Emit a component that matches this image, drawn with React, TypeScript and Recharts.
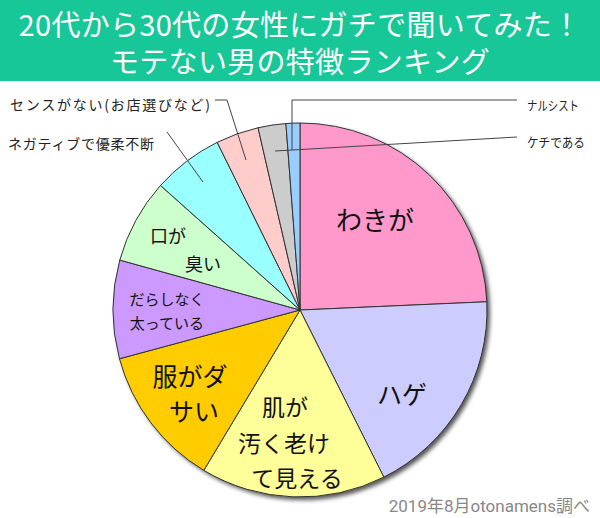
import { PieChart, Pie, Cell } from "recharts";

// 調査データ（%）
const categories = [
  "わきが",
  "ハゲ",
  "肌が汚く老けて見える",
  "服がダサい",
  "だらしなく太っている",
  "口が臭い",
  "ネガティブで優柔不断",
  "センスがない(お店選びなど)",
  "ケチである",
  "ナルシスト",
];
const percents = [24.3, 18.3, 16.0, 12.2, 8.5, 7.3, 6.1, 3.7, 2.4, 1.2];
const colors = [
  "#FF99CC",
  "#CCCCFF",
  "#FFFF99",
  "#FFCC00",
  "#CC99FF",
  "#CCFFCC",
  "#99FFFF",
  "#FFCCCC",
  "#CCCCCC",
  "#99CCFF",
];

const data = categories.map((name, i) => ({ name, value: percents[i] }));

const HAND = "'Noto Sans CJK JP', sans-serif";

// 円の中の文字（中心からのずれ）
const insideLabels: Record<number, { lines: string[]; dx: number[]; dy: number[]; size: number }> = {
  0: { lines: ["わきが"], dx: [75], dy: [-92], size: 26 },
  1: { lines: ["ハゲ"], dx: [102], dy: [83], size: 25 },
  2: { lines: ["肌が", "汚く老け", "て見える"], dx: [-15, -16, -3], dy: [96, 132, 167], size: 23 },
  3: { lines: ["服がダ", "サい"], dx: [-110, -106], dy: [65, 100], size: 25 },
  4: { lines: ["だらしなく", "太っている"], dx: [-133, -133], dy: [-12, 12], size: 15 },
  5: { lines: ["口が", "臭い"], dx: [-132, -97], dy: [-75, -47], size: 18 },
};

// 外側のラベルと引き出し線（中心からの相対座標）
const outsideLabels: Record<number, { text: string; tx: number; ty: number; len: number; size: number; squeeze: boolean; path: number[][] }> = {
  6: { text: "ネガティブで優柔不断", tx: -292, ty: -167, len: 146, size: 14, squeeze: false, path: [[-133, -178], [-97, -128]] },
  7: { text: "センスがない(お店選びなど)", tx: -290, ty: -206, len: 200, size: 14, squeeze: false, path: [[-85, -210], [-73, -210], [-54, -150]] },
  8: { text: "ケチである", tx: 227, ty: -169, len: 58, size: 13, squeeze: true, path: [[217, -173], [-25, -159]] },
  9: { text: "ナルシスト", tx: 227, ty: -206, len: 52, size: 13, squeeze: true, path: [[217, -210], [-8, -210], [-8, -160]] },
};

const renderLabel = (props: any) => {
  const { cx, cy, index } = props;
  const ins = insideLabels[index];
  if (ins) {
    return (
      <g key={`in-${index}`}>
        {ins.lines.map((line, j) => (
          <text
            key={j}
            x={cx + ins.dx[j]}
            y={cy + ins.dy[j]}
            textAnchor="middle"
            dominantBaseline="central"
            fontFamily={HAND}
            fontSize={ins.size}
            fill="#111"
          >
            {line}
          </text>
        ))}
      </g>
    );
  }
  const out = outsideLabels[index];
  if (out) {
    const d = out.path
      .map((p, j) => `${j === 0 ? "M" : "L"}${cx + p[0]},${cy + p[1]}`)
      .join(" ");
    return (
      <g key={`out-${index}`}>
        <path d={d} stroke="#444" strokeWidth={1} fill="none" />
        <text
          x={cx + out.tx}
          y={cy + out.ty}
          textAnchor="start"
          dominantBaseline="central"
          fontFamily={HAND}
          fontSize={out.size}
          textLength={out.len}
          lengthAdjust={out.squeeze ? "spacingAndGlyphs" : "spacing"}
          fill="#222"
        >
          {out.text}
        </text>
      </g>
    );
  }
  return null;
};

export default function App() {
  return (
    <div
      style={{
        position: "absolute",
        left: 0,
        top: 0,
        width: 600,
        height: 518,
        background: "#fff",
        fontFamily: HAND,
      }}
    >
      {/* タイトル帯 */}
      <div
        style={{
          height: 81,
          background: "#17C797",
          color: "#fff",
          textAlign: "center",
          fontSize: 29,
          fontWeight: 400,
          lineHeight: "37px",
          paddingTop: 5,
          boxSizing: "border-box",
          whiteSpace: "nowrap",
          letterSpacing: 0.3,
        }}
      >
        <div>20代から30代の女性にガチで聞いてみた！</div>
        <div>モテない男の特徴ランキング</div>
      </div>

      <div style={{ position: "absolute", left: 0, top: 0 }}>
        <PieChart width={600} height={518}>
          {/* 影 */}
          <Pie
            data={[{ value: 1 }]}
            dataKey="value"
            cx={298}
            cy={308}
            outerRadius={187}
            startAngle={90}
            endAngle={-270}
            stroke="none"
            isAnimationActive={false}
          >
            <Cell fill="#555" style={{ filter: "blur(2px)" }} />
          </Pie>
          <Pie
            data={data}
            dataKey="value"
            cx={295}
            cy={305}
            outerRadius={187}
            startAngle={90}
            endAngle={-270}
            stroke="#333"
            strokeWidth={1}
            labelLine={false}
            label={renderLabel}
            isAnimationActive={false}
          >
            {data.map((d, i) => (
              <Cell key={d.name} fill={colors[i]} />
            ))}
          </Pie>
        </PieChart>
      </div>

      <div
        style={{
          position: "absolute",
          right: 10,
          top: 492,
          fontSize: 17,
          color: "#888",
          fontFamily: "Roboto, 'Noto Sans CJK JP', sans-serif",
        }}
      >
        2019年8月otonamens調べ
      </div>
    </div>
  );
}
